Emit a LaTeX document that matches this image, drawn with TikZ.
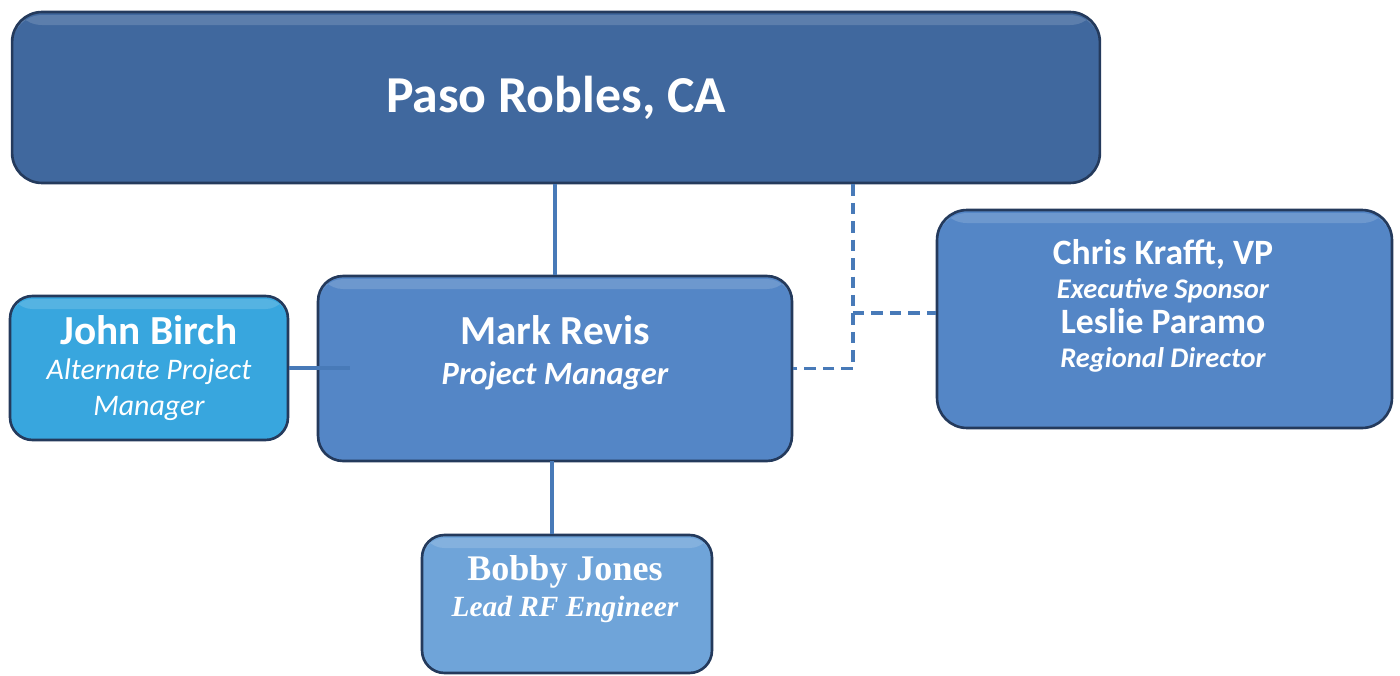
\documentclass[tikz,border=0pt]{standalone}
\usepackage{fontspec}
\setmainfont{Carlito}
\newfontfamily\timesfont{Liberation Serif}
\usepackage{xcolor}
\usetikzlibrary{positioning}

\definecolor{topblue}{RGB}{64,104,158}
\definecolor{midblue}{RGB}{84,134,198}
\definecolor{skyblue}{RGB}{56,166,222}
\definecolor{paleblue}{RGB}{111,164,217}
\definecolor{edgeblue}{RGB}{36,58,92}
\definecolor{lineblue}{RGB}{72,122,184}

\begin{document}
\begin{tikzpicture}[x=0.02cm, y=-0.02cm,
    orgbox/.style={draw=edgeblue, line width=1.5pt, rounded corners=0.5cm, text=white, align=center, inner sep=0pt,
        path picture={\fill[white, opacity=0.15] ([yshift=-0.06cm]path picture bounding box.north west) rectangle ([yshift=-0.26cm]path picture bounding box.north east);}},
    orgtext/.style={text=white, align=center, inner sep=0pt},
    solidlink/.style={lineblue, line width=2.8pt},
    dashlink/.style={lineblue, line width=1.8pt, dash pattern=on 6.5pt off 4pt}]

        \useasboundingbox (0,0) rectangle (1400,676);

        % Site box
        \node[orgbox, fill=topblue, minimum width=21.76cm, minimum height=3.42cm, rounded corners=0.6cm,
            font=\fontsize{29.5}{32}\selectfont\bfseries] (paso) at (556,97.5) {Paso Robles, CA};

        % Project manager
        \node[orgbox, fill=midblue, minimum width=9.48cm, minimum height=3.7cm] (mark) at (555,368.5) {};
        \node[orgtext, font=\fontsize{18.5}{22.7}\selectfont] (markT) at (555,353)
            {{\fontsize{23.5}{22.7}\selectfont\bfseries Mark Revis}\\{\bfseries\itshape Project Manager}};

        % Alternate project manager
        \node[orgbox, fill=skyblue, minimum width=5.56cm, minimum height=2.88cm, rounded corners=0.45cm,
            font=\fontsize{17}{20.3}\selectfont] (john) at (149,368)
            {{\fontsize{23.5}{20.3}\selectfont\bfseries John Birch}\\{\itshape Alternate Project}\\{\itshape Manager}};

        % Sponsors
        \node[orgbox, fill=midblue, minimum width=9.1cm, minimum height=4.36cm, rounded corners=0.6cm] (chris) at (1164.5,319) {};
        \node[orgtext, font=\fontsize{16.2}{19.5}\selectfont\bfseries] (chrisT) at (1163,306)
            {{\fontsize{20.3}{19.5}\selectfont Chris Krafft, VP}\\{\itshape Executive Sponsor}\\
             {\fontsize{20.3}{19.5}\selectfont Leslie Paramo}\\{\itshape Regional Director}};

        % Engineer
        \node[orgbox, fill=paleblue, minimum width=5.8cm, minimum height=2.76cm, rounded corners=0.45cm] (bobby) at (567,604) {};
        \node[orgtext, font=\timesfont\fontsize{16.7}{20.4}\selectfont\bfseries] (bobbyT) at (565,589)
            {{\fontsize{20.5}{20.4}\selectfont Bobby Jones}\\{\itshape Lead RF Engineer}};

        % Solid lines
        \coordinate (johnend) at (350,368);
        \coordinate (bobbyup) at (552,461);
        \draw[solidlink] (paso.south -| mark.north) -- (mark.north);
        \draw[solidlink] (bobbyup) -- (bobbyup |- bobby.north);
        \draw[solidlink] (john.east) -- (johnend);

        % Dashed lines
        \coordinate (elbow) at (853,368.5);
        \coordinate (branch) at (853,313);
        \draw[dashlink] (paso.south -| elbow) -- (elbow) -- (mark.east);
        \draw[dashlink] (branch) -- (branch -| chris.west);
    \end{tikzpicture}
\end{document}
